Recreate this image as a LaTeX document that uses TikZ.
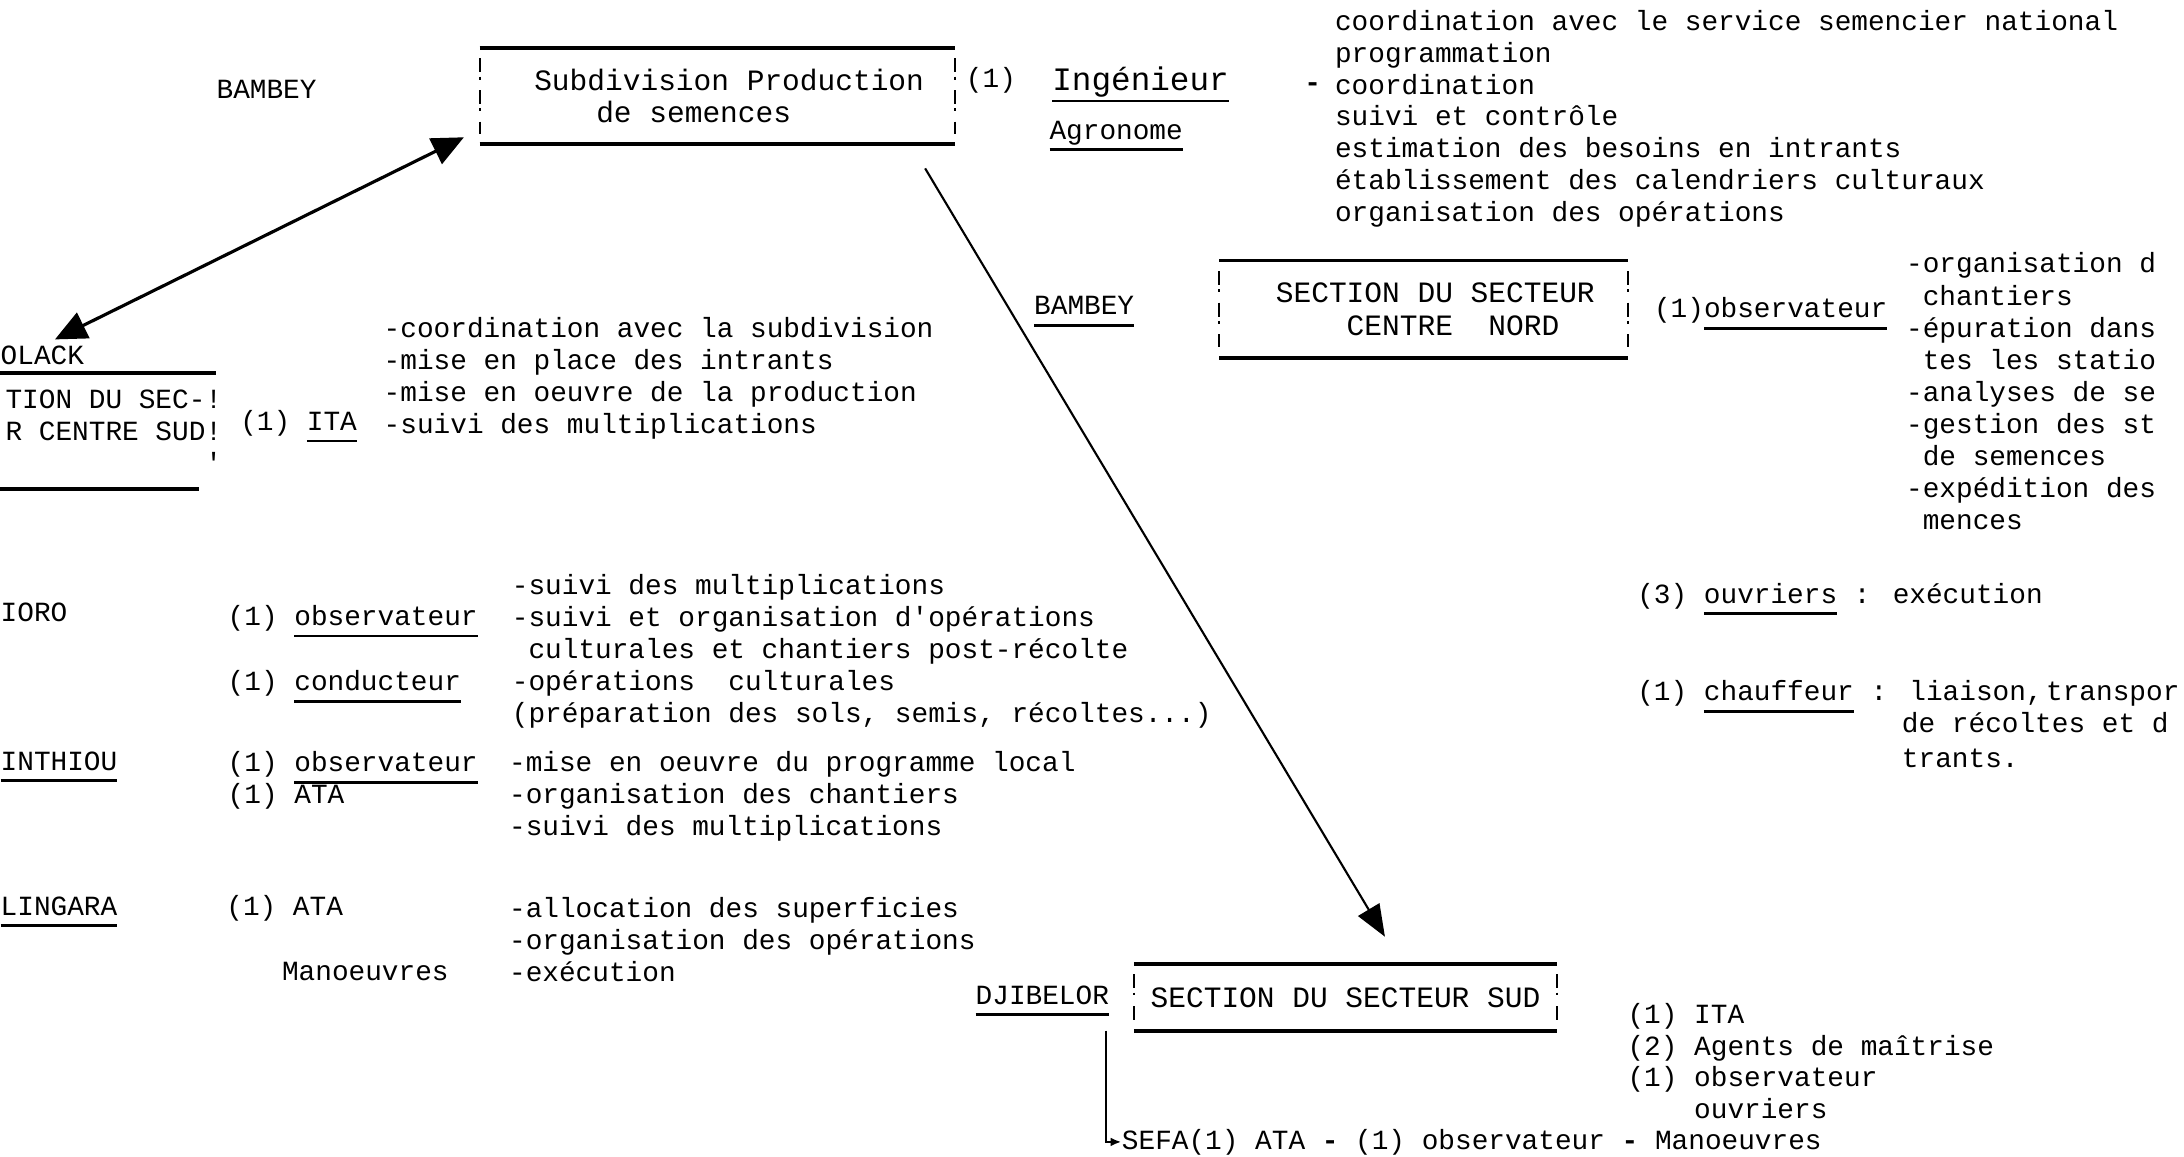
\documentclass[tikz,border=0pt]{standalone}
\usepackage{fontspec}
\usetikzlibrary{arrows.meta}
\newfontfamily\tw{Liberation Mono}
\newcommand\twf{\tw\fontsize{7.9}{9.1}\selectfont}
\newcommand\hdf{\tw\fontsize{8.4}{9.3}\selectfont}
\newsavebox\ulbox
\newcommand\barunder[1]{\sbox\ulbox{#1}\rlap{\vrule height -2.6pt depth 3.4pt width \wd\ulbox}\usebox\ulbox}

\begin{document}
\begin{tikzpicture}[
        x=0.01393cm, y=-0.01393cm,
        txt/.style={font=\twf, inner sep=0pt, anchor=base west},
        sect/.style={font=\hdf, inner sep=0pt, align=left},
        rule/.style={line width=1.1pt},
        side/.style={line width=0.5pt, dash pattern=on 4pt off 1.2pt on 0.8pt off 3pt},
        link/.style={line width=0.6pt}
    ]
    \path[use as bounding box, fill=white] (0,0) rectangle (1568,830);

    % Subdivision Production de semences
    \node[txt] (bambeyA) at (155,71) {BAMBEY};
    \node[sect, minimum width=4.74cm, minimum height=0.95cm] (sub) at (515,69) {\hspace*{0.8em}Subdivision Production\\\hspace*{2.9em}de semences};
    \node[txt] (n1) at (693,63) {(1)};
    \node[txt, font=\tw\fontsize{9.3}{11}\selectfont] (ing) at (755,65) {\barunder{Ingénieur}};
    \node[txt] (agro) at (753,100) {\barunder{Agronome}};
    \node[txt, font=\tw\bfseries\fontsize{7.9}{9.1}\selectfont] (tiret) at (936,66) {-};
    \foreach \t [count=\i] in {coordination avec le service semencier national, programmation,
        coordination, suivi et contrôle, estimation des besoins en intrants,
        établissement des calendriers culturaux, organisation des opérations}
        \node[txt] (ing\i) at (958,22.8*\i-0.8) {\t};

    % Centre Sud
    \node[txt] (olack) at (0,262) {OLACK};
    \node[txt, anchor=north east, align=right, minimum height=1.14cm] (cs) at (160,268) {TION DU SEC-!\\R CENTRE SUD!\\'};
    \draw[rule] (olack.west |- cs.north) -- ([xshift=-0.07cm]cs.north east);
    \draw[rule] (olack.west |- cs.south) -- ([xshift=-0.24cm]cs.south east);
    \node[txt] (itaA) at (172,309) {(1) \barunder{ITA}};
    \foreach \t [count=\i] in {-coordination avec la subdivision, -mise en place des intrants,
        -mise en oeuvre de la production, -suivi des multiplications}
        \node[txt] (csl\i) at (275,219+23*\i) {\t};

    % Centre Nord
    \node[txt] (bambeyB) at (742,226) {\barunder{BAMBEY}};
    \node[sect, minimum width=4.07cm, minimum height=0.96cm] (cn) at (1022,222) {\hspace*{0.8em}SECTION DU SECTEUR\\\hspace*{3.2em}CENTRE\ \ NORD};
    \node[txt] (obsA) at (1187,228) {(1)\barunder{observateur}};
    \foreach \t [count=\i] in {-organisation d, \ chantiers, -épuration dans, \ tes les statio,
        -analyses de se, -gestion des st, \ de semences, -expédition des, \ mences}
        \node[txt] (cnl\i) at (1368,173+23*\i) {\t};
    \node[txt] (ouv) at (1175,433) {(3) \barunder{ouvriers} : exécution};
    \node[txt] (chauf) at (1175,503) {(1) \barunder{chauffeur} : liaison,\kern1pt transpor};
    \node[txt] (chauf2) at (1365,526) {de récoltes et d};
    \node[txt] (chauf3) at (1365,551) {trants.};

    % stations
    \node[txt] (ioro) at (0,446) {IORO};
    \node[txt] (obsB) at (163,449) {(1) \barunder{observateur}};
    \node[txt] (cond) at (163,496) {(1) \barunder{conducteur}};
    \foreach \t [count=\i] in {-suivi des multiplications, -suivi et organisation d'opérations,
        \ culturales et chantiers post-récolte, -opérations\ \ culturales,
        {(préparation des sols, semis, récoltes..{}.)}}
        \node[txt] (iol\i) at (367,404+23*\i) {\t};
    \node[txt] (inth) at (0,553) {\barunder{INTHIOU}};
    \node[txt] (obsC) at (163,554) {(1) \barunder{observateur}};
    \node[txt] (ataA) at (163,577) {(1) ATA};
    \foreach \t [count=\i] in {-mise en oeuvre du programme local, -organisation des chantiers,
        -suivi des multiplications}
        \node[txt] (inl\i) at (365,531+23*\i) {\t};
    \node[txt] (ling) at (0,657) {\barunder{LINGARA}};
    \node[txt] (ataB) at (162,657) {(1) ATA};
    \node[txt] (man) at (202,704) {Manoeuvres};
    \foreach \t [count=\i] in {-allocation des superficies, -organisation des opérations, -exécution}
        \node[txt] (lil\i) at (365,636+23*\i) {\t};

    % Secteur Sud
    \node[txt] (djib) at (700,721) {\barunder{DJIBELOR}};
    \node[sect, minimum width=4.22cm, minimum height=0.655cm] (sud) at (966,716) {SECTION DU SECTEUR SUD};
    \foreach \t [count=\i] in {(1) ITA, (2) Agents de maîtrise, (1) observateur, \hphantom{(1) }ouvriers}
        \node[txt] (sudl\i) at (1168,712.3+22.7*\i) {\t};
    \node[txt] (sefa) at (805,825) {SEFA(1) ATA \textbf{-} (1) observateur \textbf{-} Manoeuvres};

    \foreach \b in {sub,cn,sud} {
        \draw[rule] (\b.north west) -- (\b.north east) (\b.south west) -- (\b.south east);
        \draw[side] ([yshift=-3pt]\b.north west) -- ([yshift=3pt]\b.south west);
        \draw[side] ([yshift=-3pt]\b.north east) -- ([yshift=3pt]\b.south east);
    }

    \draw[link, line width=0.9pt, arrows={Triangle[length=9pt,width=8pt]-Triangle[length=9pt,width=8pt]},
        shorten <=4pt, shorten >=5pt] (olack.north) -- (sub.188);
    \draw[link, -{Triangle[length=9pt,width=7pt]}, shorten <=8pt, shorten >=9pt] (sub.-14) -- (sud.31);
    \draw[link, -{Latex[length=3pt,width=2.5pt]}] ([xshift=-0.28cm]sud.south west) |- (sefa.west);
\end{tikzpicture}
\end{document}
